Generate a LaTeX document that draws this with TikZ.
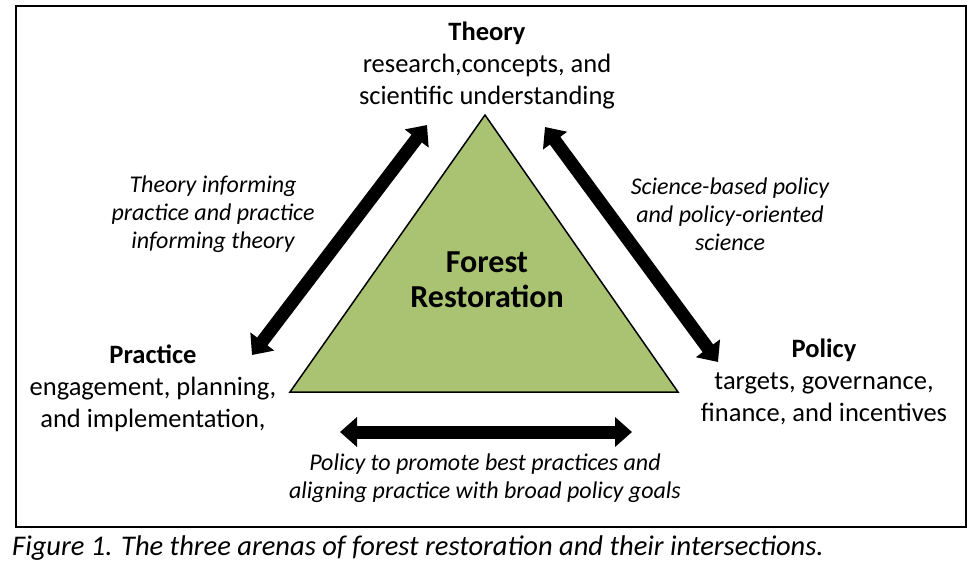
\documentclass[tikz,border=0pt]{standalone}
\usepackage{fontspec}
\setmainfont{Carlito}
\usetikzlibrary{arrows.meta}
\definecolor{trigreen}{RGB}{170,195,115}
\tikzset{
  fat/.style={line width=13pt, {Triangle[width=29pt,length=17pt]}-{Triangle[width=29pt,length=17pt]}},
  main/.style={align=center, inner sep=0pt, font=\fontsize{26.5}{32}\selectfont},
  lab/.style={align=center, inner sep=0pt, font=\fontsize{24}{28}\selectfont\itshape},
}
\begin{document}
\begin{tikzpicture}[x=1pt,y=-1pt]
\useasboundingbox (0,0) rectangle (974,570);
\draw[line width=2pt] (16,6) rectangle (966,527);
\draw[fill=trigreen, line width=1.5pt, line join=miter] (485,115) -- (290,392) -- (678,392) -- cycle;
\node[main, font=\fontsize{32}{35}\selectfont\bfseries] (core) at (487,280) {Forest\\Restoration};
\node[main] (theory) at (487,65) {\textbf{Theory}\\research,concepts, and\\scientific understanding};
\node[main] (practice) at (153,388) {\textbf{Practice}\\engagement, planning,\\and implementation,};
\node[main] (policy) at (824,382) {\textbf{Policy}\\targets, governance,\\finance, and incentives};
\node[lab] (tp) at (213,214) {Theory informing\\practice and practice\\informing theory};
\node[lab] (sp) at (730,214) {Science-based policy\\and policy-oriented\\science};
\node[lab] (pp) at (485,478) {Policy to promote best practices and\\aligning practice with broad policy goals};
\node[anchor=west, inner sep=0pt, font=\fontsize{28.5}{30}\selectfont\itshape] (cap) at (12,548) {Figure 1. The three arenas of forest restoration and their intersections.};
\coordinate (a1) at (427,125);
\coordinate (a2) at (252,355);
\coordinate (b1) at (545,127);
\coordinate (b2) at (718,362);
\coordinate (c1) at (340,432);
\coordinate (c2) at (632,432);
\draw[fat] (a1) -- (a2);
\draw[fat] (b1) -- (b2);
\draw[fat] (c1) -- (c2);
\end{tikzpicture}
\end{document}
